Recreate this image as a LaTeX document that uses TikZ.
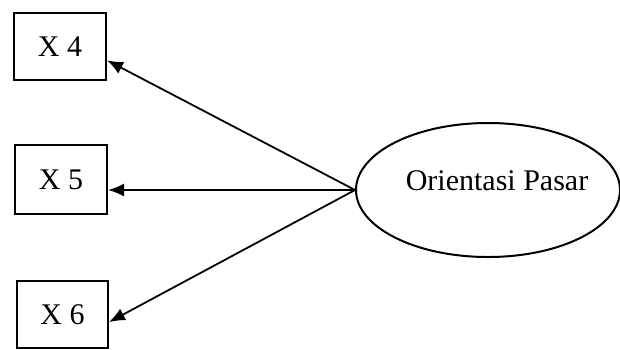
\documentclass[tikz,border=0pt]{standalone}
\usepackage{fontspec}
\setmainfont{Liberation Serif}
\usetikzlibrary{shapes.geometric,calc,arrows.meta}
\tikzset{
  obsbox/.style={draw, line width=2pt, inner sep=0pt, font=\fontsize{30}{36}\selectfont},
  latent/.style={ellipse, draw, line width=2pt, inner sep=0pt, minimum width=264pt, minimum height=134pt},
  path arrow/.style={line width=1.8pt, -{Latex[length=16pt,width=13pt]}}
}
\begin{document}
\begin{tikzpicture}[x=1pt,y=-1pt]
\useasboundingbox (0,0) rectangle (620,349);
\node[obsbox, minimum width=92pt, minimum height=67pt] (x4) at (60,46.5) {X 4};
\node[obsbox, minimum width=92pt, minimum height=69pt] (x5) at (61,179.5) {X 5};
\node[obsbox, minimum width=91pt, minimum height=67pt] (x6) at (62.5,314.5) {X 6};
\node[latent, label={[xshift=9pt,yshift=9pt,font=\fontsize{30}{36}\selectfont]center:Orientasi Pasar}] (op) at (488,190) {};
\draw[path arrow] (op.west) -- ($(x4.north east)!0.70!(x4.south east)$);
\draw[path arrow] (op.west) -- (op.west -| x5.east);
\draw[path arrow] (op.west) -- ($(x6.north east)!0.61!(x6.south east)$);
\end{tikzpicture}
\end{document}
